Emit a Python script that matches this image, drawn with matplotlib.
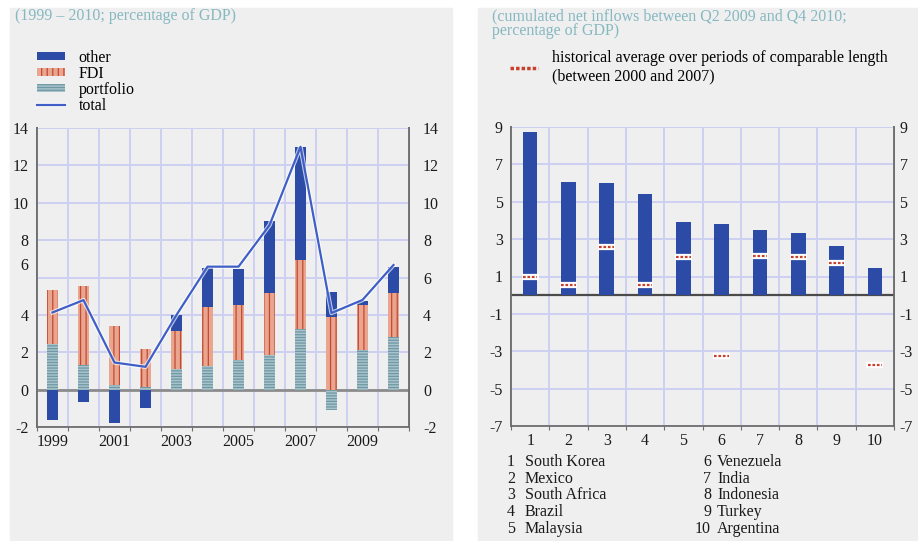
import numpy as np
import matplotlib.pyplot as plt
from matplotlib.patches import Rectangle
from matplotlib.lines import Line2D
import matplotlib.patheffects as pe

plt.rcParams['font.family'] = ['Liberation Serif', 'DejaVu Serif']
plt.rcParams['hatch.linewidth'] = 0.9
plt.rcParams['axes.unicode_minus'] = False

# left chart: capital inflows by type, 1999-2010 (% of GDP)
years = list(range(1999, 2011))
portfolio = [2.43, 1.31, 0.23, 0.14, 1.09, 1.27, 1.57, 1.84, 3.24, -1.11, 2.11, 2.79]
fdi = [2.90, 4.25, 3.17, 2.06, 2.06, 3.16, 2.95, 3.35, 3.70, 3.86, 2.41, 2.40]
other = [-1.64, -0.66, -1.79, -0.97, 0.84, 2.10, 1.95, 3.86, 6.06, 1.34, 0.24, 1.35]
total = [4.13, 4.79, 1.45, 1.22, 4.00, 6.58, 6.58, 8.80, 13.00, 4.10, 4.80, 6.67]

# right chart: cumulated net inflows Q2 2009 - Q4 2010
countries = ['South Korea', 'Mexico', 'South Africa', 'Brazil', 'Malaysia',
             'Venezuela', 'India', 'Indonesia', 'Turkey', 'Argentina']
inflows = [8.73, 6.05, 6.00, 5.42, 3.94, 3.80, 3.48, 3.35, 2.65, 1.44]
hist_avg = [0.99, 0.54, 2.60, 0.54, 2.06, -3.26, 2.12, 2.03, 1.71, -3.75]

BG = '#efefef'
GRID = '#cdd0f2'
BLUE = '#2b4ba6'
TITLE = '#86b8c1'
SPINE = '#6e6e6e'
TXT = '#1a1a1a'
FS = 11.5

fig = plt.figure(figsize=(9.18, 5.41), dpi=100, facecolor='white')
fig.patches.append(Rectangle((10 / 918, 0), 442 / 918, 1 - 8 / 541,
                             transform=fig.transFigure, color=BG, zorder=-10))
fig.patches.append(Rectangle((478 / 918, 0), 440 / 918, 1 - 8 / 541,
                             transform=fig.transFigure, color=BG, zorder=-10))

ax1 = fig.add_axes([37 / 918, 1 - 427 / 541, 372 / 918, 299 / 541])
ax2 = fig.add_axes([511 / 918, 1 - 426 / 541, 383 / 918, 299 / 541])


def style_axes(ax):
    ax.set_facecolor(BG)
    ax.set_axisbelow(True)
    ax.grid(True, which='major', color=GRID, lw=1.4)
    ax.spines['top'].set_visible(False)
    for s in ['left', 'right', 'bottom']:
        ax.spines[s].set_color(SPINE)
        ax.spines[s].set_linewidth(1.3)
    ax.tick_params(axis='y', length=0, labelleft=False, labelright=False)
    ax.tick_params(axis='x', which='major', length=3, direction='out',
                   color=SPINE, labelbottom=False)
    ax.tick_params(axis='x', which='minor', length=0, labelsize=FS,
                   labelcolor=TXT, pad=5)


def side_labels(ax, side, ticks, labels, pad):
    sec = ax.secondary_yaxis(side)
    sec.set_yticks(ticks, labels=labels)
    sec.tick_params(length=0, labelsize=FS, labelcolor=TXT, pad=pad)
    sec.spines[side].set_color(SPINE)
    sec.spines[side].set_linewidth(1.3)


# ---- left chart ----
x = np.arange(len(years))
w = 0.38
pos_base = np.zeros(len(years))
neg_base = np.zeros(len(years))
series = [
    (portfolio, dict(color='#a8c3cb', edgecolor='#6f98a4', hatch='------', label='portfolio')),
    (fdi, dict(color='#eaa58f', edgecolor='#c24a35', hatch='|||', label='FDI')),
    (other, dict(color=BLUE, edgecolor=BLUE, label='other')),
]
handles = {}
for vals, kw in series:
    v = np.array(vals)
    bottom = np.where(v >= 0, pos_base, neg_base)
    bars = ax1.bar(x, v, w, bottom=bottom, linewidth=0, zorder=2, **kw)
    handles[kw['label']] = bars
    pos_base += np.clip(v, 0, None)
    neg_base += np.clip(v, None, 0)

line, = ax1.plot(x, total, color='#3f5fc6', lw=1.6, zorder=4, label='total',
                 path_effects=[pe.Stroke(linewidth=3.2, foreground='#ffffff', alpha=0.7),
                               pe.Normal()])
ax1.axhline(0, color='#8c8c8c', lw=2, zorder=1)

style_axes(ax1)
ax1.set_xlim(-0.5, len(years) - 0.5)
ax1.set_ylim(-2, 14)
ax1.set_xticks(np.arange(-0.5, len(years), 1))
ax1.set_xticks(x[::2], labels=[str(y) for y in years[::2]], minor=True)
yt1 = list(range(-2, 15, 2))
ax1.set_yticks(yt1)
# left-hand labels as printed in the source (the "6" sits a little high)
side_labels(ax1, 'left', [-2, 0, 2, 4, 6.7, 8, 10, 12, 14],
            [str(t) for t in yt1], 6)
side_labels(ax1, 'right', yt1, [str(t) for t in yt1], 10)

fig.text(15 / 918, 1 - 16 / 541, '(1999 – 2010; percentage of GDP)',
         color=TITLE, fontsize=FS, va='center', ha='left')
fig.legend([handles['other'], handles['FDI'], handles['portfolio'], line],
           ['other', 'FDI', 'portfolio', 'total'],
           loc='upper left', bbox_to_anchor=(37 / 918, 1 - 50 / 541),
           frameon=False, fontsize=FS, handlelength=1.75, handleheight=0.35,
           handletextpad=0.85, labelspacing=0.0, borderaxespad=0, borderpad=0)

# ---- right chart ----
xc = np.arange(1, len(countries) + 1)
ax2.bar(xc, inflows, w, color=BLUE, linewidth=0, zorder=2)
ax2.hlines(hist_avg, xc - 0.22, xc + 0.22, color='white', lw=4.5, zorder=3)
ax2.hlines(hist_avg, xc - 0.19, xc + 0.19, color='#c8402c', lw=1.6,
           linestyles=(0, (1.2, 0.8)), zorder=4)
ax2.axhline(0, color='#4a4a4a', lw=1.6, zorder=1)

style_axes(ax2)
ax2.set_xlim(0.5, len(countries) + 0.5)
ax2.set_ylim(-7, 9)
ax2.set_xticks(np.arange(0.5, len(countries) + 1, 1))
ax2.set_xticks(xc, labels=[str(i) for i in xc], minor=True)
yt2 = list(range(-7, 10, 2))
ax2.set_yticks(yt2)
side_labels(ax2, 'left', yt2, [str(t) for t in yt2], 6)
side_labels(ax2, 'right', yt2, [str(t) for t in yt2], 4)

fig.text(492 / 918, 1 - 16 / 541,
         '(cumulated net inflows between Q2 2009 and Q4 2010;',
         color=TITLE, fontsize=FS, va='center', ha='left')
fig.text(492 / 918, 1 - 31 / 541, 'percentage of GDP)',
         color=TITLE, fontsize=FS, va='center', ha='left')
avg_handle = Line2D([], [], color='#c8402c', lw=2.5, linestyle=(0, (1, 0.6)))
fig.legend([avg_handle],
           ['historical average over periods of comparable length\n(between 2000 and 2007)'],
           loc='upper left', bbox_to_anchor=(510 / 918, 1 - 50 / 541),
           frameon=False, fontsize=FS, handlelength=1.75, handletextpad=0.85,
           borderaxespad=0, borderpad=0, alignment='left')

# country key under the right chart
for i, name in enumerate(countries):
    col, row = divmod(i, 5)
    ypos = 1 - (462 + row * 16.7) / 541
    xnum = (515 if col == 0 else 711) / 918
    xname = (525 if col == 0 else 717) / 918
    fig.text(xnum, ypos, str(i + 1), fontsize=FS, ha='right', va='center', color=TXT)
    fig.text(xname, ypos, name, fontsize=FS, ha='left', va='center', color=TXT)

fig.savefig('out.png', dpi=100, facecolor=fig.get_facecolor())
